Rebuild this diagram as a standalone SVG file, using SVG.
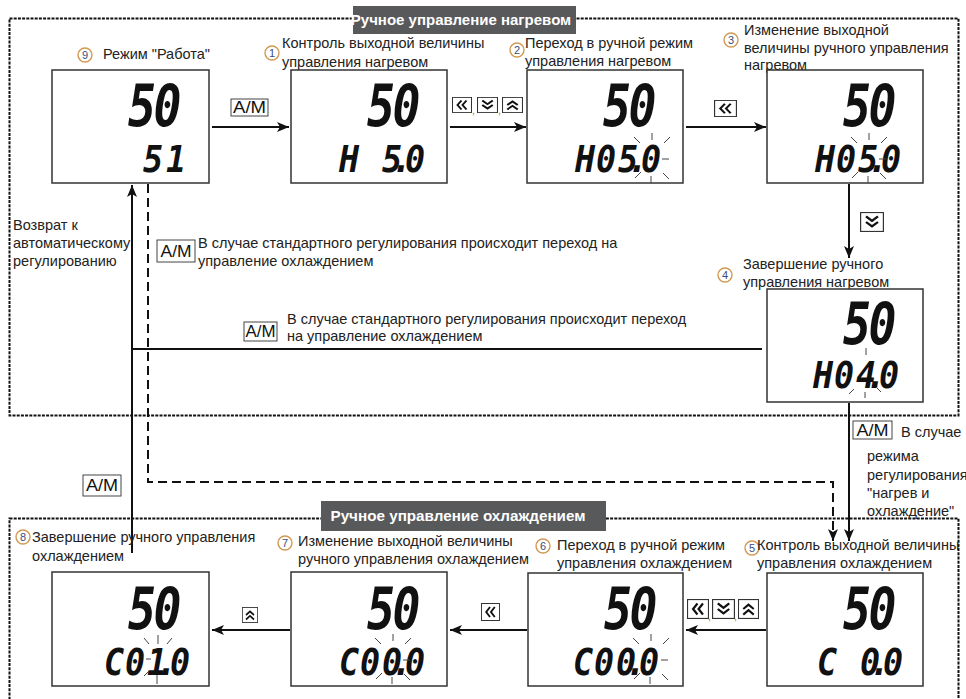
<svg xmlns="http://www.w3.org/2000/svg" xmlns:xlink="http://www.w3.org/1999/xlink" width="966" height="699" viewBox="0 0 966 699">
<style>
.t{font-family:"Liberation Sans",Arial,sans-serif;font-size:14.5px;fill:#222}
.frame{fill:none;stroke:#111;stroke-width:2;stroke-dasharray:3 1.2}
.ttl{fill:#58595b}
.ttlt{font-family:"Liberation Sans",Arial,sans-serif;font-weight:bold;font-size:15px;fill:#fff;text-anchor:middle}
.disp{fill:#fff;stroke:#333;stroke-width:1.5}
.big{font-family:"DejaVu Sans Mono",monospace;font-weight:bold;font-style:italic;font-size:58px;fill:#111}
.sm{font-family:"DejaVu Sans Mono",monospace;font-weight:bold;font-style:italic;font-size:38px;fill:#111}
.ray{fill:none;stroke:#444;stroke-width:1}
.ln{fill:none;stroke:#111;stroke-width:2}
.dash{fill:none;stroke:#111;stroke-width:2;stroke-dasharray:9 5}
.am rect{fill:#fff;stroke:#444;stroke-width:1}
.am text{font-family:"Liberation Sans",Arial,sans-serif;font-size:16px;fill:#111;text-anchor:middle}
.cn circle{fill:#fff;stroke:#d19a52;stroke-width:1.4}
.cn text{font-family:"Liberation Sans",Arial,sans-serif;font-size:11px;fill:#3c4d7a;text-anchor:middle}
.cm{font-family:"Liberation Sans",Arial,sans-serif;font-size:11px;fill:#c07a30}
</style>
<defs>
<marker id="ah" markerUnits="userSpaceOnUse" markerWidth="13" markerHeight="10" refX="12" refY="5" orient="auto">
<path d="M0,0 L12,5 L0,10 L3,5 Z" fill="#111"/>
</marker>
<symbol id="kL" viewBox="0 0 20 18" preserveAspectRatio="none">
<rect x="0.5" y="0.5" width="19" height="17" fill="#fff" stroke="#333"/>
<path d="M9.5,4 L5.5,9 L9.5,14 M14.5,4 L10.5,9 L14.5,14" fill="none" stroke="#111" stroke-width="2"/>
</symbol>
<symbol id="kD" viewBox="0 0 20 18" preserveAspectRatio="none">
<rect x="0.5" y="0.5" width="19" height="17" fill="#fff" stroke="#333"/>
<path d="M5,4 L10,8 L15,4 M5,9 L10,13 L15,9" fill="none" stroke="#111" stroke-width="2"/>
</symbol>
<symbol id="kU" viewBox="0 0 20 18" preserveAspectRatio="none">
<rect x="0.5" y="0.5" width="19" height="17" fill="#fff" stroke="#333"/>
<path d="M5,9 L10,5 L15,9 M5,14 L10,10 L15,14" fill="none" stroke="#111" stroke-width="2"/>
</symbol>
<g id="rays">
<path class="ray" d="M0,-25V-18 M-18,-21 L-12,-15 M18,-21 L12,-15 M10,1 H17 M11,15 L17,21 M-1,18 V25 M-11,14 L-17,20"/>
</g>
<g id="rays4">
<path class="ray" d="M0,-25V-18 M-1,19 V25 M-12,16 L-17,21 M10,14 L15,19"/>
</g>
<g id="rays8">
<path class="ray" d="M0,-24V-15 M-14,-21 L-9,-15 M14,-21 L9,-15 M-1,16 V25 M-9,12 L-14,17 M-12,0 H-7"/>
</g>
</defs>

<rect width="966" height="699" fill="#fff"/>

<!-- frames -->
<rect class="frame" x="9.5" y="18.5" width="949" height="397"/>
<rect class="frame" x="9.5" y="518.5" width="949" height="200"/>
<g id="title-heat">
<rect class="ttl" x="353" y="6" width="223" height="28"/>
<text class="ttlt" x="461" y="25">Ручное управление нагревом</text>
</g>
<g id="title-cool">
<rect class="ttl" x="321" y="501" width="285" height="30"/>
<text class="ttlt" x="458" y="521" textLength="255" lengthAdjust="spacingAndGlyphs">Ручное управление охлаждением</text>
</g>

<!-- connectors -->
<g id="connectors">
<path class="ln" d="M212,127 H289" marker-end="url(#ah)"/>
<path class="ln" d="M450,127 H526" marker-end="url(#ah)"/>
<path class="ln" d="M686,127 H766" marker-end="url(#ah)"/>
<path class="ln" d="M849,184 V258" marker-end="url(#ah)"/>
<path class="ln" d="M849,403 V541" marker-end="url(#ah)"/>
<path class="dash" d="M148,184 V482 H833 V541" marker-end="url(#ah)"/>
<path class="ln" d="M132,553 V185" marker-end="url(#ah)"/>
<path class="ln" d="M762,349 H132"/>
<path class="ln" d="M766,630 H686" marker-end="url(#ah)"/>
<path class="ln" d="M527,630 H450" marker-end="url(#ah)"/>
<path class="ln" d="M290,630 H212" marker-end="url(#ah)"/>

<use xlink:href="#kL" href="#kL" x="452" y="97" width="20" height="16"/>
<use xlink:href="#kD" href="#kD" x="477" y="97" width="21" height="16"/>
<use xlink:href="#kU" href="#kU" x="502" y="97" width="21" height="16"/>
<text class="cm" x="472" y="114">,</text>
<text class="cm" x="498" y="114">,</text>
<use xlink:href="#kL" href="#kL" x="714" y="100" width="23" height="17"/>
<use xlink:href="#kD" href="#kD" x="860" y="212" width="24" height="20"/>

<use xlink:href="#kL" href="#kL" x="687" y="599" width="22" height="20"/>
<use xlink:href="#kD" href="#kD" x="712" y="599" width="23" height="20"/>
<use xlink:href="#kU" href="#kU" x="738" y="599" width="21" height="20"/>
<text class="cm" x="708" y="620">,</text>
<text class="cm" x="734" y="620">,</text>
<use xlink:href="#kL" href="#kL" x="481" y="603" width="19" height="18"/>
<use xlink:href="#kU" href="#kU" x="242" y="607" width="16" height="16"/>

<g class="am"><rect x="231" y="99" width="37" height="17"/><text x="249.5" y="113" textLength="33" lengthAdjust="spacingAndGlyphs">A/M</text></g>
<g class="am"><rect x="157" y="240" width="38" height="22"/><text x="176" y="257" textLength="31" lengthAdjust="spacingAndGlyphs">A/M</text></g>
<g class="am"><rect x="244" y="322" width="33" height="19"/><text x="260.5" y="337" textLength="30" lengthAdjust="spacingAndGlyphs">A/M</text></g>
<g class="am"><rect x="853" y="421" width="39" height="18"/><text x="872.5" y="436" textLength="32" lengthAdjust="spacingAndGlyphs">A/M</text></g>
<g class="am"><rect x="83" y="475" width="38" height="21"/><text x="102" y="491" textLength="32" lengthAdjust="spacingAndGlyphs">A/M</text></g>

<text class="t" x="198" y="248">В случае стандартного регулирования происходит переход на</text>
<text class="t" x="198" y="266">управление охлаждением</text>
<text class="t" x="287" y="324">В случае стандартного регулирования происходит переход</text>
<text class="t" x="287" y="341">на управление охлаждением</text>
<text class="t" x="13" y="230">Возврат к</text>
<text class="t" x="13" y="248">автоматическому</text>
<text class="t" x="13" y="266">регулированию</text>
<text class="t" x="901" y="437">В случае</text>
<text class="t" x="867" y="461">режима</text>
<text class="t" x="867" y="480">регулирования</text>
<text class="t" x="867" y="498">"нагрев и</text>
<text class="t" x="867" y="516">охлаждение"</text>
</g>

<!-- nodes -->
<g id="node9">
<g class="cn"><circle cx="85" cy="55" r="7"/><text x="85" y="59">9</text></g>
<text class="t" x="103" y="59">Режим "Работа"</text>
<g transform="translate(52,70)">
<rect class="disp" x="0" y="0" width="157" height="113"/>
<text class="big" transform="translate(76,56) scale(0.8,1)" x="0 32" y="0">50</text>
<text class="sm" transform="translate(48,102) scale(0.88,1)" x="49 75" y="0">51</text>
</g>
</g>

<g id="node1">
<g class="cn"><circle cx="272" cy="53" r="7"/><text x="272" y="57">1</text></g>
<text class="t" x="282" y="48">Контроль выходной величины</text>
<text class="t" x="282" y="67">управления нагревом</text>
<g transform="translate(291,70)">
<rect class="disp" x="0" y="0" width="156" height="113"/>
<text class="big" transform="translate(76,56) scale(0.8,1)" x="0 32" y="0">50</text>
<text class="sm" transform="translate(48,102) scale(0.88,1)" x="0 24 49 60 75" y="0">H 5.0</text>
</g>
</g>

<g id="node2">
<g class="cn"><circle cx="517" cy="50" r="7"/><text x="517" y="54">2</text></g>
<text class="t" x="525" y="48">Переход в ручной режим</text>
<text class="t" x="525" y="66">управления нагревом</text>
<g transform="translate(527,70)">
<rect class="disp" x="0" y="0" width="156" height="113"/>
<text class="big" transform="translate(76,56) scale(0.8,1)" x="0 32" y="0">50</text>
<text class="sm" transform="translate(48,102) scale(0.88,1)" x="0 24 49 60 75" y="0">H05.0</text>
<use xlink:href="#rays" href="#rays" transform="translate(125,88)"/>
</g>
</g>

<g id="node3">
<g class="cn"><circle cx="731" cy="40" r="7"/><text x="731" y="44">3</text></g>
<text class="t" x="744" y="35">Изменение выходной</text>
<text class="t" x="744" y="53">величины ручного управления</text>
<text class="t" x="744" y="70">нагревом</text>
<g transform="translate(767,70)">
<rect class="disp" x="0" y="0" width="156" height="113"/>
<text class="big" transform="translate(76,56) scale(0.8,1)" x="0 32" y="0">50</text>
<text class="sm" transform="translate(48,102) scale(0.88,1)" x="0 24 49 60 75" y="0">H05.0</text>
<use xlink:href="#rays" href="#rays" transform="translate(102,88)"/>
</g>
</g>

<g id="node4">
<g class="cn"><circle cx="725" cy="275" r="7"/><text x="725" y="279">4</text></g>
<text class="t" x="743" y="269">Завершение ручного</text>
<text class="t" x="743" y="287">управления нагревом</text>
<g transform="translate(767,289)">
<rect class="disp" x="0" y="0" width="156" height="113"/>
<text class="big" transform="translate(76,55) scale(0.8,1)" x="0 32" y="0">50</text>
<text class="sm" transform="translate(46,99) scale(0.88,1)" x="0 24 49 60 75" y="0">H04.0</text>
<use xlink:href="#rays4" href="#rays4" transform="translate(99,84)"/>
</g>
</g>

<g id="node5">
<g class="cn"><circle cx="752" cy="548" r="7"/><text x="752" y="552">5</text></g>
<text class="t" x="757" y="550">Контроль выходной величины</text>
<text class="t" x="757" y="568">управления охлаждением</text>
<g transform="translate(767,573)">
<rect class="disp" x="0" y="0" width="156" height="113"/>
<text class="big" transform="translate(76,56) scale(0.8,1)" x="0 32" y="0">50</text>
<text class="sm" transform="translate(50,102) scale(0.88,1)" x="0 24 49 60 75" y="0">C 0.0</text>
</g>
</g>

<g id="node6">
<g class="cn"><circle cx="543" cy="546" r="7"/><text x="543" y="550">6</text></g>
<text class="t" x="557" y="550">Переход в ручной режим</text>
<text class="t" x="557" y="568">управления охлаждением</text>
<g transform="translate(528,573)">
<rect class="disp" x="0" y="0" width="155" height="113"/>
<text class="big" transform="translate(76,56) scale(0.8,1)" x="0 32" y="0">50</text>
<text class="sm" transform="translate(45,102) scale(0.88,1)" x="0 24 49 60 75" y="0">C00.0</text>
<use xlink:href="#rays" href="#rays" transform="translate(123,86)"/>
</g>
</g>

<g id="node7">
<g class="cn"><circle cx="285" cy="543" r="7"/><text x="285" y="547">7</text></g>
<text class="t" x="298" y="546">Изменение выходной величины</text>
<text class="t" x="298" y="564">ручного управления охлаждением</text>
<g transform="translate(291,572)">
<rect class="disp" x="0" y="0" width="156" height="114"/>
<text class="big" transform="translate(76,57) scale(0.8,1)" x="0 32" y="0">50</text>
<text class="sm" transform="translate(48,103) scale(0.88,1)" x="0 24 49 60 75" y="0">C00.0</text>
<use xlink:href="#rays" href="#rays" transform="translate(102,87)"/>
</g>
</g>

<g id="node8">
<g class="cn"><circle cx="23" cy="537" r="7"/><text x="23" y="541">8</text></g>
<text class="t" x="32" y="542">Завершение ручного управления</text>
<text class="t" x="32" y="561">охлаждением</text>
<g transform="translate(52,572)">
<rect class="disp" x="0" y="0" width="157" height="114"/>
<text class="big" transform="translate(76,57) scale(0.8,1)" x="0 32" y="0">50</text>
<text class="sm" transform="translate(52,103) scale(0.88,1)" x="0 24 49 60 75" y="0">C01.0</text>
<use xlink:href="#rays8" href="#rays8" transform="translate(106,87)"/>
</g>
</g>
</svg>
